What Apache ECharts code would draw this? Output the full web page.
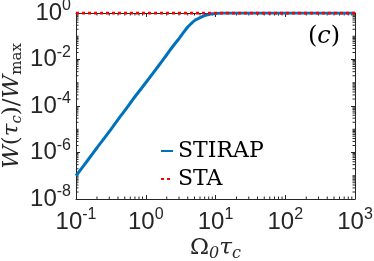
<!DOCTYPE html>
<html>
<head>
<meta charset="utf-8">
<script src="https://cdn.jsdelivr.net/npm/echarts@6/dist/echarts.min.js"></script>
<style>html,body{margin:0;padding:0;background:#fff;}#c{width:374px;height:261px;}</style>
</head>
<body>
<div id="c"></div>
<script>
// Data
const omegaTau = [0.1,0.15,0.2,0.3,0.4,0.5,0.7,1,1.5,2,2.5,3,3.5,4,4.5,5,5.5,6,7,8,9,10,12,15,20,50,100,200,500,1000];
const stirap = [1.0e-7,5.0e-7,1.6e-6,7.9e-6,2.6e-5,6.3e-5,2.5e-4,1.0e-3,5.0e-3,1.6e-2,4.0e-2,7.9e-2,0.15,0.25,0.355,0.47,0.55,0.63,0.77,0.86,0.92,0.96,0.99,1,1,1,1,1,1,1];
const staX = [0.1,1,10,100,1000];
const sta = [1,1,1,1,1];
const xTickExp = ['-1','0','1','2','3'];
const yTickExp = ['-8','-6','-4','-2','0'];
const minorMult = [2,3,4,5,6,7,8,9];
const xDecades = [0.1,1,10,100];
const yDecades = [1e-8,1e-7,1e-6,1e-5,1e-4,1e-3,1e-2,1e-1];

const xMinor = [];
xDecades.forEach(d => minorMult.forEach(m => xMinor.push([m*d, 1e-8])));
const yMinor = [];
yDecades.forEach((d,i) => { if (i % 2 === 1) yMinor.push([0.1, d]); minorMult.forEach(m => yMinor.push([0.1, m*d])); });

const axisColor = '#262626';
const tickRich = {
  b: {fontFamily: 'Liberation Sans', fontSize: 24, color: axisColor, lineHeight: 24},
  s: {fontFamily: 'Liberation Sans', fontSize: 16, color: axisColor, lineHeight: 16, padding: [0,0,14,0]}
};
const serif = 'DejaVu Serif';

const chart = echarts.init(document.getElementById('c'), null, {renderer: 'canvas'});
const minorLen = 2.5;
chart.setOption({
  animation: false,
  grid: {left: 76, right: 19, top: 13, bottom: 62, containLabel: false, outerBoundsMode: 'none'},
  xAxis: [{
    type: 'log', logBase: 10, min: 0.1, max: 1000, interval: 1,
    axisLine: {lineStyle: {color: axisColor, width: 1}},
    axisTick: {inside: true, length: 4, lineStyle: {color: axisColor}},
    splitLine: {show: false},
    axisLabel: {margin: 11, formatter: (v, i) => '{b|10}{s|' + xTickExp[i] + '}', rich: tickRich},
    name: '{n|Ω}{sub|0}{i|τ}{sub|c}',
    nameLocation: 'middle', nameGap: 36, nameMoveOverlap: false,
    nameTextStyle: {
      rich: {
        n: {fontFamily: serif, fontSize: 23, color: axisColor, lineHeight: 26},
        i: {fontFamily: serif, fontSize: 23, fontStyle: 'italic', color: axisColor, lineHeight: 26},
        sub: {fontFamily: serif, fontSize: 16, fontStyle: 'italic', color: axisColor, lineHeight: 16, padding: [12,0,0,0]}
      }
    }
  }, {
    type: 'log', logBase: 10, min: 0.1, max: 1000, interval: 1, position: 'top',
    axisLine: {lineStyle: {color: axisColor, width: 1}},
    axisTick: {inside: true, length: 4, lineStyle: {color: axisColor}},
    axisLabel: {show: false}, splitLine: {show: false}
  }],
  yAxis: [{
    type: 'log', logBase: 10, min: 1e-8, max: 1, interval: 2,
    axisLine: {show: true, lineStyle: {color: axisColor, width: 1}},
    axisTick: {show: true, inside: true, length: 4, lineStyle: {color: axisColor}},
    splitLine: {show: false},
    axisLabel: {margin: 5, formatter: (v, i) => '{b|10}{s|' + yTickExp[i] + '}', rich: tickRich},
    name: '{i|W}{n|(}{i|τ}{sub|c}{n|)/}{i|W}{subr|max}',
    nameLocation: 'middle', nameRotate: 90, nameGap: 51, nameMoveOverlap: false,
    nameTextStyle: {
      rich: {
        n: {fontFamily: serif, fontSize: 23, color: axisColor, lineHeight: 26},
        i: {fontFamily: serif, fontSize: 23, fontStyle: 'italic', color: axisColor, lineHeight: 26},
        sub: {fontFamily: serif, fontSize: 15, fontStyle: 'italic', color: axisColor, lineHeight: 15, padding: [11,0,0,0]},
        subr: {fontFamily: serif, fontSize: 15, color: axisColor, lineHeight: 15, padding: [11,0,0,0]}
      }
    }
  }, {
    type: 'log', logBase: 10, min: 1e-8, max: 1, interval: 2, position: 'right',
    axisLine: {show: true, lineStyle: {color: axisColor, width: 1}},
    axisTick: {show: true, inside: true, length: 4, lineStyle: {color: axisColor}},
    axisLabel: {show: false}, splitLine: {show: false}
  }],
  legend: {
    orient: 'vertical', left: 155, top: 135,
    itemWidth: 12, itemHeight: 14, itemGap: 6,
    data: ['STIRAP', 'STA'],
    itemStyle: {color: 'rgba(0,0,0,0)', borderWidth: 0, opacity: 0},
    textStyle: {fontFamily: serif, fontSize: 22, color: '#000', lineHeight: 22}
  },
  graphic: [{
    type: 'text', left: 308, top: 25,
    style: {
      text: '{n|(}{i|c}{n|)}',
      rich: {
        n: {fontFamily: serif, fontSize: 24, fill: '#000'},
        i: {fontFamily: serif, fontSize: 24, fontStyle: 'italic', fill: '#000'}
      }
    }
  }],
  series: [{
    name: 'STIRAP', type: 'line',
    data: omegaTau.map((x, i) => [x, stirap[i]]),
    showSymbol: false, symbol: 'none',
    smooth: 0.3,
    lineStyle: {color: '#0072BD', width: 3},
    itemStyle: {color: '#0072BD'}
  }, {
    name: 'STA', type: 'line',
    data: staX.map((x, i) => [x, sta[i]]),
    showSymbol: false, symbol: 'none',
    lineStyle: {color: '#FF0000', width: 3, type: [3, 3]},
    itemStyle: {color: '#FF0000'}
  }, {
    type: 'custom', silent: true, clip: false,
    data: xMinor,
    renderItem: (params, api) => {
      const b = api.coord([api.value(0), 1e-8]);
      const t = api.coord([api.value(0), 1]);
      const st = {stroke: axisColor, lineWidth: 1};
      return {type: 'group', children: [
        {type: 'line', shape: {x1: b[0], y1: b[1], x2: b[0], y2: b[1] - minorLen}, style: st},
        {type: 'line', shape: {x1: t[0], y1: t[1], x2: t[0], y2: t[1] + minorLen}, style: st}
      ]};
    }
  }, {
    type: 'custom', silent: true, clip: false,
    data: yMinor,
    renderItem: (params, api) => {
      const l = api.coord([0.1, api.value(1)]);
      const r = api.coord([1000, api.value(1)]);
      const st = {stroke: axisColor, lineWidth: 1};
      return {type: 'group', children: [
        {type: 'line', shape: {x1: l[0], y1: l[1], x2: l[0] + minorLen, y2: l[1]}, style: st},
        {type: 'line', shape: {x1: r[0], y1: r[1], x2: r[0] - minorLen, y2: r[1]}, style: st}
      ]};
    }
  }]
});
</script>
</body>
</html>
